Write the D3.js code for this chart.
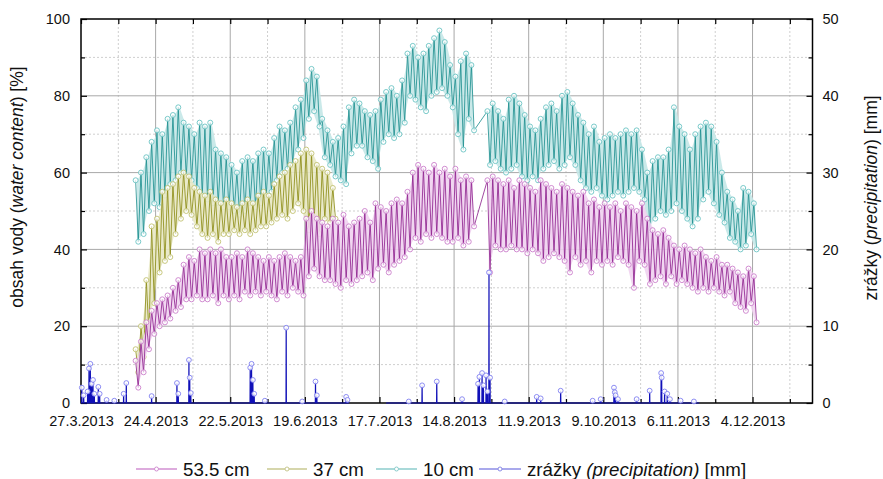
<!DOCTYPE html>
<html>
<head>
<meta charset="utf-8">
<script src="https://cdn.jsdelivr.net/npm/d3@7/dist/d3.min.js"></script>
<style>
  html, body { margin: 0; padding: 0; background: #fff; }
  svg { display: block; font-family: "Liberation Sans", Arial, sans-serif; }
</style>
</head>
<body>
<svg id="chart" width="883" height="479"></svg>
<script>
// ---- x axis: days since 27.3.2013, labelled every 28 days ----
const xTickDays   = [0, 28, 56, 84, 112, 140, 168, 196, 224, 252];
const xTickLabels = ["27.3.2013", "24.4.2013", "22.5.2013", "19.6.2013", "17.7.2013",
                     "14.8.2013", "11.9.2013", "9.10.2013", "6.11.2013", "4.12.2013"];
const xMinorDays  = [14, 42, 70, 98, 126, 154, 182, 210, 238, 266];
const leftTicks   = [0, 20, 40, 60, 80, 100];
const leftMinor   = [10, 30, 50, 70, 90];
const rightTicks  = [0, 10, 20, 30, 40, 50];
const rightMinor  = [5, 15, 25, 35, 45];

// ---- soil water content [%]: two-day bins, daily high then daily low ----
const binStep = 2;

const cm10Start = 20;
const cm10Hi = [58,60,64,68,71,70,74,75,77,73, 72,70,73,72,73,66,65,64,62,60,
                63,64,63,65,66,65,69,72,71,73, 77,79,84,87,85,74,71,68,69,72,
                77,79,78,76,75,76,79,81,82,80, 84,91,93,90,91,93,95,97,94,88,
                85,89,91,88,null,null,76,78,76,74, 79,80,78,75,72,71,74,77,78,76,
                80,81,78,75,73,70,72,68,69,70, 69,70,71,70,71,66,60,63,64,64,
                66,77,72,70,66,70,72,73,72,68, 60,55,53,50,56,55,52];
const cm10Lo = [42,44,50,52,51,54,57,58,60,59, 58,56,54,53,52,52,51,51,50,49,
                50,52,51,52,54,55,58,60,61,62, 66,69,74,76,72,64,62,59,58,57,
                65,67,67,64,63,61,68,70,69,70, 73,80,79,77,76,80,81,82,80,77,
                70,66,74,71,null,null,62,63,61,60, 61,62,59,58,59,58,61,62,63,61,
                62,64,62,58,56,55,56,54,53,54, 55,54,55,56,55,53,45,48,50,49,
                50,52,50,48,46,48,53,55,52,49, 47,43,42,40,41,44,40];

const cm37Start = 20;
const cm37Hi = [14,20,32,46,48,55,56,57,59,60, 59,56,55,54,55,53,52,53,52,51,
                52,53,52,54,55,54,57,59,60,62, 63,65,66,65,62,61,60,56];
const cm37Lo = [8,12,18,26,34,37,38,44,48,50, 49,46,44,43,44,42,44,44,45,44,
                45,44,45,46,46,47,48,49,48,50, 52,50,45,48,44,48,47,48];

const cm53Start = 20;
const cm53Hi = [11,16,21,24,26,27,28,30,32,36, 38,37,40,39,40,39,40,38,38,39,
                38,40,39,38,37,38,37,38,39,38, 37,38,48,50,48,47,46,48,47,49,
                46,47,48,50,47,52,51,50,52,53, 52,55,60,62,61,60,62,60,61,59,
                61,58,59,58,null,null,58,59,58,57, 58,56,58,57,56,55,58,57,56,55,
                57,56,55,54,55,52,53,51,52,51, 52,50,52,51,50,52,48,45,44,45,
                43,41,40,41,40,39,40,38,37,38, 36,36,35,34,33,35,33];
const cm53Lo = [4,8,14,18,20,21,22,24,25,27, 27,28,27,27,28,26,28,27,28,27,
                29,28,29,28,29,28,27,29,28,30, 29,28,33,35,33,32,32,31,30,32,
                31,32,33,34,32,35,36,34,36,37, 38,40,43,42,44,43,44,43,42,42,
                43,41,42,46,null,null,34,41,40,40, 41,40,40,39,40,39,37,38,39,38,
                37,34,38,36,37,34,37,36,37,36, 38,37,36,30,37,36,31,32,33,31,
                33,31,32,31,30,29,30,29,30,29, 28,29,26,25,24,26,21];

// ---- precipitation [mm]: recording periods and non-zero readings ----
const rainPeriods = [[0, 100.6], [114.5, 232]];
const rainDay = [0.3, 1.0, 2.5, 3.0, 3.5, 4.0, 4.5, 5.0, 6.5, 7.0, 9.6, 12.5, 16.0, 17.0,
                 26.5, 36.0, 36.5, 40.5, 40.8, 41.2, 63.5, 64.0, 64.5, 65.0, 69.0, 77.0,
                 83.0, 88.0, 88.5, 99.5, 100.0,
                 123.0, 128.0, 133.5, 143.0, 149.0, 149.5, 150.5, 151.0, 152.0, 152.5,
                 153.1, 153.5, 159.0, 171.0, 172.5, 180.0, 192.0, 195.0, 200.0, 200.3,
                 200.6, 201.5, 208.5, 213.4, 217.7, 217.9, 219.0, 220.0, 221.0, 225.0, 230.0];
const rainMm  = [2.0, 1.0, 1.5, 4.5, 5.1, 2.5, 3.0, 1.2, 2.1, 1.2, 0.4, 0.3, 1.2, 2.6,
                 0.9, 2.6, 1.2, 5.6, 3.3, 1.3, 4.6, 5.1, 3.0, 1.2, 0.3, 9.8,
                 0.2, 2.8, 1.0, 0.8, 0.4,
                 0.2, 2.3, 2.8, 0.5, 2.5, 3.4, 3.9, 2.3, 3.6, 1.5,
                 17.0, 3.3, 0.2, 0.8, 0.6, 1.6, 0.3, 0.5, 2.0, 1.4,
                 1.0, 0.5, 0.5, 1.6, 3.9, 3.3, 1.5, 1.2, 0.5, 0.3, 0.2];

const legendNames = ["53.5 cm", "37 cm", "10 cm"];

// ---- layout ----
const svg = d3.select("#chart");
const L = 81, R = 812.5, T = 19, B = 403;
const x  = d3.scaleLinear().domain([0, 274.5]).range([L, R]);
const yL = d3.scaleLinear().domain([0, 100]).range([B, T]);
const yR = d3.scaleLinear().domain([0, 50]).range([B, T]);
const fontSize = 14.5, titleSize = 17.5;

// grid
const grid = svg.append("g");
xMinorDays.forEach(d => grid.append("line")
  .attr("x1", x(d)).attr("x2", x(d)).attr("y1", T).attr("y2", B)
  .attr("stroke", "#cfcfcf").attr("stroke-dasharray", "2,2"));
leftMinor.forEach(v => grid.append("line")
  .attr("x1", L).attr("x2", R).attr("y1", yL(v)).attr("y2", yL(v))
  .attr("stroke", "#cfcfcf").attr("stroke-dasharray", "2,2"));
xTickDays.slice(1).forEach(d => grid.append("line")
  .attr("x1", x(d)).attr("x2", x(d)).attr("y1", T).attr("y2", B)
  .attr("stroke", "#a8a8a8"));
leftTicks.slice(1, -1).forEach(v => grid.append("line")
  .attr("x1", L).attr("x2", R).attr("y1", yL(v)).attr("y2", yL(v))
  .attr("stroke", "#a8a8a8"));

// axes (inward ticks)
function styleAxis(g) {
  g.selectAll(".domain").remove();
  g.selectAll("line").attr("stroke", "#000").attr("stroke-width", 1.2);
  g.selectAll("text").attr("font-size", fontSize).attr("fill", "#111")
    .attr("font-family", "Liberation Sans, Arial, sans-serif");
}
svg.append("g").attr("transform", `translate(0,${B})`)
  .call(d3.axisBottom(x).tickValues(xTickDays).tickFormat((d, i) => xTickLabels[i])
    .tickSizeInner(-6).tickSizeOuter(0).tickPadding(13)).call(styleAxis);
svg.append("g").attr("transform", `translate(0,${B})`)
  .call(d3.axisBottom(x).tickValues(xMinorDays).tickFormat("")
    .tickSizeInner(-4).tickSizeOuter(0)).call(styleAxis);
svg.append("g").attr("transform", `translate(0,${T})`)
  .call(d3.axisTop(x).tickValues(xTickDays.concat(xMinorDays)).tickFormat("")
    .tickSizeInner(-5).tickSizeOuter(0)).call(styleAxis);
svg.append("g").attr("transform", `translate(${L},0)`)
  .call(d3.axisLeft(yL).tickValues(leftTicks).tickSizeInner(-6).tickSizeOuter(0).tickPadding(11))
  .call(styleAxis);
svg.append("g").attr("transform", `translate(${L},0)`)
  .call(d3.axisLeft(yL).tickValues(leftMinor).tickFormat("").tickSizeInner(-4).tickSizeOuter(0))
  .call(styleAxis);
svg.append("g").attr("transform", `translate(${R},0)`)
  .call(d3.axisRight(yR).tickValues(rightTicks).tickSizeInner(-6).tickSizeOuter(0).tickPadding(10))
  .call(styleAxis);
svg.append("g").attr("transform", `translate(${R},0)`)
  .call(d3.axisRight(yR).tickValues(rightMinor).tickFormat("").tickSizeInner(-4).tickSizeOuter(0))
  .call(styleAxis);

// frame
svg.append("rect").attr("x", L).attr("y", T).attr("width", R - L).attr("height", B - T)
  .attr("fill", "none").attr("stroke", "#000").attr("stroke-width", 1.5);

// axis titles
const leftTitle = svg.append("text")
  .attr("transform", `translate(23,187) rotate(-90)`)
  .attr("text-anchor", "middle").attr("font-size", titleSize).attr("fill", "#111");
leftTitle.append("tspan").text("obsah vody (");
leftTitle.append("tspan").attr("font-style", "italic").text("water content");
leftTitle.append("tspan").text(") [%]");

const rightTitle = svg.append("text")
  .attr("transform", `translate(877,198) rotate(-90)`)
  .attr("text-anchor", "middle").attr("font-size", titleSize).attr("fill", "#111");
rightTitle.append("tspan").text("zrážky (");
rightTitle.append("tspan").attr("font-style", "italic").text("precipitation");
rightTitle.append("tspan").text(") [mm]");

// ---- soil moisture series ----
function binsToPoints(start, hi, lo) {
  const pts = [];
  hi.forEach((h, i) => {
    if (h == null) return;
    const d = start + i * binStep;
    pts.push({ d: d + 0.5, v: h });
    pts.push({ d: d + 1.5, v: lo[i] });
  });
  return pts;
}
function binsToRange(start, hi, lo) {
  return hi.map((h, i) => ({ d: start + i * binStep + 1, hi: h, lo: lo[i] }));
}

const series = [
  { start: cm10Start, hi: cm10Hi, lo: cm10Lo, line: "#168c8c", mark: "#6cc4c4", band: "#c4e7e7" },
  { start: cm37Start, hi: cm37Hi, lo: cm37Lo, line: "#88880e", mark: "#c2c272", band: "#e8e8c4" },
  { start: cm53Start, hi: cm53Hi, lo: cm53Lo, line: "#8a1a8a", mark: "#cc80cc", band: "#f0d2f0" }
];

const lineGen = d3.line().x(p => x(p.d)).y(p => yL(p.v));
const bandGen = d3.area().defined(p => p.hi != null)
  .x(p => x(p.d)).y0(p => yL(p.lo)).y1(p => yL(p.hi));
series.forEach(s => {
  const pts = binsToPoints(s.start, s.hi, s.lo);
  const g = svg.append("g");
  // daily range between successive readings
  g.append("path").attr("d", bandGen(binsToRange(s.start, s.hi, s.lo)))
    .attr("fill", s.band).attr("fill-opacity", 0.9);
  g.append("path").attr("d", lineGen(pts)).attr("fill", "none")
    .attr("stroke", s.line).attr("stroke-width", 0.8);
  g.selectAll("circle").data(pts).join("circle")
    .attr("cx", p => x(p.d)).attr("cy", p => yL(p.v)).attr("r", 2.5)
    .attr("fill", "#fff").attr("fill-opacity", 0.7)
    .attr("stroke", s.mark).attr("stroke-width", 0.9);
});

// ---- precipitation ----
const rain = rainDay.map((d, i) => ({ d, v: rainMm[i] }));
const rainLine = d3.line().x(p => x(p.d)).y(p => yR(p.v));
const rainG = svg.append("g");
rainPeriods.forEach(([a, b]) => {
  const pts = [{ d: a, v: 0 }];
  rain.filter(p => p.d >= a && p.d <= b).forEach(p => {
    pts.push({ d: p.d - 0.06, v: 0 }, p, { d: p.d + 0.06, v: 0 });
  });
  pts.push({ d: b, v: 0 });
  rainG.append("path").attr("d", rainLine(pts)).attr("fill", "none")
    .attr("stroke", "#1010b8").attr("stroke-width", 1.2);
});
rainG.selectAll("circle").data(rain).join("circle")
  .attr("cx", p => x(p.d)).attr("cy", p => yR(p.v)).attr("r", 2.4)
  .attr("fill", "#fff").attr("fill-opacity", 0.85)
  .attr("stroke", "#8080f0").attr("stroke-width", 0.9);

// ---- legend ----
const legendItems = [
  { x0: 136, x1: 177, tx: 183, color: "#d28fd2", label: legendNames[0] },
  { x0: 267, x1: 307, tx: 313, color: "#c8c890", label: legendNames[1] },
  { x0: 376, x1: 417, tx: 423, color: "#8ccdcd", label: legendNames[2] },
  { x0: 479, x1: 521, tx: 527, color: "#8c8ce6", label: null }
];
const ly = 469, lFont = 18.7;
legendItems.forEach(it => {
  svg.append("line").attr("x1", it.x0).attr("x2", it.x1).attr("y1", ly).attr("y2", ly)
    .attr("stroke", it.color).attr("stroke-width", 1.6);
  svg.append("circle").attr("cx", (it.x0 + it.x1) / 2).attr("cy", ly).attr("r", 2)
    .attr("fill", "#fff").attr("stroke", it.color).attr("stroke-width", 1);
  const t = svg.append("text").attr("x", it.tx).attr("y", ly + 6.5)
    .attr("font-size", lFont).attr("fill", "#111");
  if (it.label) {
    t.text(it.label);
  } else {
    t.append("tspan").text("zrážky ");
    t.append("tspan").attr("font-style", "italic").text("(precipitation)");
    t.append("tspan").text(" [mm]");
  }
});
</script>
</body>
</html>
